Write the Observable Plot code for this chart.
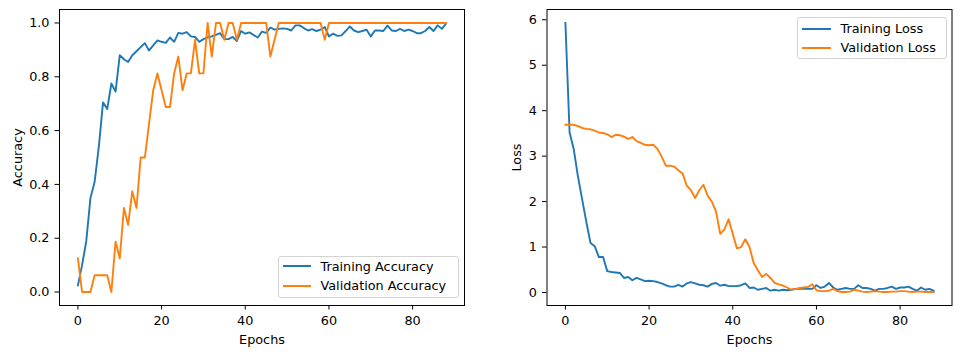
<!DOCTYPE html>
<html><head><meta charset="utf-8">
<script src="https://cdn.jsdelivr.net/npm/d3@7"></script>
<script src="https://cdn.jsdelivr.net/npm/@observablehq/plot@0.6"></script>
<style>
body{margin:0;background:#fff;}
#wrap{position:relative;width:961px;height:355px;display:flex;font-family:"DejaVu Sans",sans-serif;}
.legend{position:absolute;box-sizing:border-box;border:1px solid #d3d3d3;border-radius:3px;background:rgba(255,255,255,0.8);font-size:12.8px;color:#000;}
.legend .row{position:absolute;left:0;height:16px;display:flex;align-items:center;white-space:nowrap;}
.legend .sw{display:inline-block;height:2px;}
</style></head><body><div id="wrap"></div>
<script>
// ---- data ----
const trainAcc = [0.025,0.10,0.19,0.35,0.41,0.54,0.705,0.68,0.775,0.745,
  0.88,0.865,0.855,0.88,0.895,0.91,0.925,0.898,0.917,0.935,
  0.93,0.926,0.946,0.93,0.963,0.96,0.966,0.95,0.948,0.93,
  0.94,0.946,0.95,0.956,0.962,0.94,0.94,0.948,0.933,0.97,
  0.96,0.965,0.955,0.946,0.968,0.963,0.983,0.975,0.978,0.98,
  0.978,0.972,0.991,0.991,0.981,0.972,0.977,0.97,0.975,0.985,
  0.95,0.96,0.952,0.954,0.97,0.987,0.972,0.966,0.97,0.975,
  0.95,0.972,0.972,0.97,0.99,0.972,0.97,0.978,0.97,0.975,
  0.97,0.962,0.962,0.97,0.985,0.97,0.991,0.978,0.998];
const valAcc = [0.125,0,0,0,0.0625,0.0625,0.0625,0.0625,0,0.1875,
  0.125,0.3125,0.25,0.375,0.3125,0.5,0.5,0.625,0.75,0.8125,
  0.75,0.6875,0.6875,0.8125,0.875,0.75,0.8125,0.8125,0.9375,0.8125,
  0.8125,1,0.875,1,1,0.9375,1,1,0.9375,1,
  1,1,1,1,1,1,0.875,0.9375,1,1,
  1,1,1,1,1,1,1,1,1,0.9375,
  1,1,1,1,1,1,1,1,1,1,
  1,1,1,1,1,1,1,1,1,1,
  1,1,1,1,1,1,1,1,1];
const trainLoss = [5.93,3.52,3.15,2.55,2.05,1.55,1.09,1.02,0.78,0.78,
  0.47,0.45,0.44,0.43,0.32,0.34,0.27,0.32,0.29,0.25,
  0.26,0.25,0.23,0.20,0.16,0.13,0.13,0.17,0.13,0.20,
  0.23,0.20,0.17,0.16,0.13,0.19,0.21,0.15,0.17,0.14,
  0.14,0.14,0.16,0.20,0.10,0.11,0.06,0.08,0.10,0.04,
  0.06,0.04,0.06,0.05,0.06,0.08,0.08,0.08,0.08,0.08,
  0.16,0.10,0.13,0.21,0.11,0.06,0.08,0.10,0.08,0.08,
  0.16,0.10,0.10,0.08,0.04,0.08,0.08,0.10,0.13,0.08,
  0.11,0.11,0.13,0.08,0.04,0.11,0.06,0.08,0.04];
const valLoss = [3.69,3.69,3.69,3.66,3.62,3.60,3.59,3.56,3.52,3.51,
  3.48,3.42,3.47,3.46,3.43,3.38,3.42,3.33,3.29,3.25,
  3.24,3.25,3.16,2.99,2.79,2.79,2.77,2.69,2.62,2.35,
  2.25,2.08,2.25,2.37,2.13,2.00,1.78,1.29,1.39,1.61,
  1.29,0.97,1.00,1.17,1.00,0.65,0.49,0.34,0.41,0.32,
  0.21,0.18,0.15,0.11,0.06,0.08,0.10,0.11,0.12,0.18,
  0.05,0.03,0.03,0.04,0.08,0.03,0.01,0.01,0.02,0.06,
  0.04,0.02,0.01,0.02,0.03,0.02,0.01,0.01,0.02,0.02,
  0.03,0.03,0.02,0.01,0.02,0.02,0.01,0.01,0.01];
const accSeries = ["Training Accuracy","Validation Accuracy"];
const lossSeries = ["Training Loss","Validation Loss"];
const colors = ["#1f77b4","#ff7f0e"];
const xTicks = [0,20,40,60,80];
const accTicks = [0,0.2,0.4,0.6,0.8,1.0];
const lossTicks = [0,1,2,3,4,5,6];

// ---- build tidy tables ----
function tidy(arrs, names){
  const rows=[];
  arrs.forEach((a,k)=>a.forEach((v,i)=>rows.push({epoch:i,value:v,series:names[k]})));
  return rows;
}
const accData = tidy([trainAcc,valAcc],accSeries);
const lossData = tidy([trainLoss,valLoss],lossSeries);

function pad(ext){const r=ext[1]-ext[0];return [ext[0]-0.05*r, ext[1]+0.05*r];}
const xDom = pad([0, trainAcc.length-1]);

const FS = "12.8px";
function makePlot(data, names, yLabel, yTicks, yFmt, opts){
  const yDom = pad(d3.extent(data, d=>d.value));
  return Plot.plot({
    width: opts.width, height: 355,
    marginLeft: opts.ml, marginRight: opts.mr, marginTop: 9, marginBottom: 50,
    style: {fontFamily: "DejaVu Sans, sans-serif", fontSize: FS, color: "#000", background: "white", overflow: "visible"},
    x: {domain: xDom},
    y: {domain: yDom},
    color: {domain: names, range: colors},
    marks: [
      Plot.line(data, {x: "epoch", y: "value", stroke: "series", strokeWidth: 1.9, strokeLinejoin: "round", strokeLinecap: "square"}),
      Plot.axisX({ticks: xTicks, tickSize: 4.5, tickPadding: 6, tickFormat: d3.format("d"), label: "Epochs", labelAnchor: "center", labelArrow: "none", labelOffset: 38, fontSize: FS}),
      Plot.axisY({ticks: yTicks, tickSize: 4.5, tickPadding: 5.5, tickFormat: yFmt, label: yLabel, labelAnchor: "center", labelArrow: "none", labelOffset: opts.lo, fontSize: FS}),
      Plot.frame({stroke: "#000", strokeWidth: 1})
    ]
  });
}

const wrap = document.getElementById("wrap");
wrap.appendChild(makePlot(accData, accSeries, "Accuracy", accTicks, d3.format(".1f"), {width: 480, ml: 59, mr: 16, lo: 47}));
wrap.appendChild(makePlot(lossData, lossSeries, "Loss", lossTicks, d3.format("d"), {width: 481, ml: 66.5, mr: 9.5, lo: 35}));

function legend(names, box){
  const div = document.createElement("div");
  div.className = "legend";
  Object.assign(div.style, {left: box.x+"px", top: box.y+"px", width: box.w+"px", height: box.h+"px"});
  names.forEach((n,i)=>{
    const row = document.createElement("div");
    row.className = "row";
    row.style.top = (box.rows[i]-8)+"px";
    const sw = document.createElement("span");
    sw.className = "sw";
    Object.assign(sw.style, {background: colors[i], width: box.sw+"px", marginLeft: box.sl+"px"});
    const t = document.createElement("span");
    t.textContent = n;
    t.style.marginLeft = box.tg+"px";
    row.appendChild(sw); row.appendChild(t);
    div.appendChild(row);
  });
  wrap.appendChild(div);
}
legend(accSeries, {x: 278, y: 255.5, w: 180.5, h: 42.5, rows: [9.7, 29], sw: 28.5, sl: 3.5, tg: 9.5});
legend(lossSeries, {x: 797, y: 16.5, w: 150, h: 42.5, rows: [11, 30], sw: 29, sl: 3.5, tg: 10});
</script>
</body></html>
